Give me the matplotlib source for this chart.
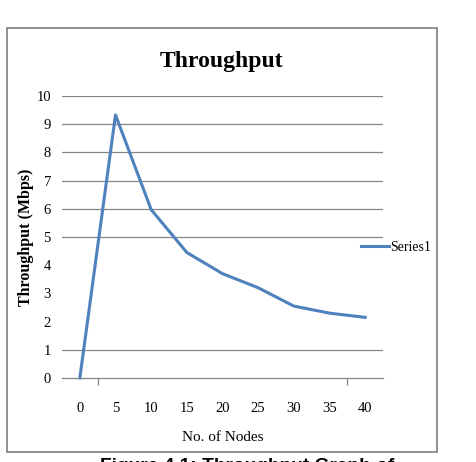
import matplotlib
matplotlib.use('Agg')
import matplotlib.pyplot as plt
from matplotlib.patches import Rectangle

# Data
nodes = ['0', '5', '10', '15', '20', '25', '30', '35', '40']
throughput = [0, 9.33, 5.97, 4.45, 3.7, 3.2, 2.55, 2.3, 2.15]
y_ticks = [0, 1, 2, 3, 4, 5, 6, 7, 8, 9, 10]
grid_levels = [1, 5, 6, 7, 8, 9, 10]   # 2-4 gridlines are faded out in the scan

W, H = 476, 462
serif = 'Liberation Serif'
grey = '#868686'
blue = '#4F81BD'

fig = plt.figure(figsize=(W / 100, H / 100), dpi=100)

# Chart outer border
fig.patches.append(Rectangle((7 / W, 1 - 452 / H), 430 / W, 424 / H,
                             transform=fig.transFigure, fill=False,
                             edgecolor='#878787', linewidth=1.3))

ax = fig.add_axes([62 / W, 1 - 378 / H, 321 / W, 282 / H])
x = list(range(len(nodes)))
ax.plot(x, throughput, color=blue, linewidth=2.2, label='Series1', clip_on=False)

ax.set_xlim(-0.5, len(nodes) - 0.5)
ax.set_ylim(0, 10)
for g in grid_levels:
    ax.axhline(g, color=grey, linewidth=0.9, zorder=0)

for s in ['top', 'right', 'left']:
    ax.spines[s].set_visible(False)
ax.spines['bottom'].set_color(grey)
ax.spines['bottom'].set_linewidth(0.9)

ax.set_xticks(x)
ax.set_xticklabels(nodes, fontfamily=serif, fontsize=10.5)
ax.tick_params(axis='x', length=0, pad=17)
ax.set_xticks([0.5, 7.5], minor=True)
ax.tick_params(axis='x', which='minor', length=5, color=grey, width=0.9)

ax.set_yticks(y_ticks)
ax.set_yticklabels([str(v) for v in y_ticks], fontfamily=serif, fontsize=10.5)
ax.tick_params(axis='y', length=0, pad=8)

ax.set_xlabel('No. of Nodes', fontfamily=serif, fontsize=11, labelpad=12)
ax.set_ylabel('Throughput (Mbps)', fontfamily=serif, fontsize=11.5,
              fontweight='bold')
ax.yaxis.set_label_coords(34 / W, 1 - 237 / H, transform=fig.transFigure)

fig.text(222 / W, 1 - 67 / H, 'Throughput', ha='center', va='baseline',
         fontfamily=serif, fontweight='bold', fontsize=17)

ax.legend(loc='center left', bbox_to_anchor=(361 / W, 1 - 247 / H),
          bbox_transform=fig.transFigure, frameon=False,
          prop={'family': serif, 'size': 10}, handlelength=2.0,
          handletextpad=0.1, borderpad=0, borderaxespad=0)

# Caption of the figure, cut off by the image bottom as in the scan
fig.text(100 / W, 1 - 471 / H, 'Figure 4.1: Throughput Graph of', ha='left',
         va='baseline', fontfamily='Liberation Sans', fontweight='bold',
         fontsize=13.8)

fig.savefig('out.png', dpi=100)
